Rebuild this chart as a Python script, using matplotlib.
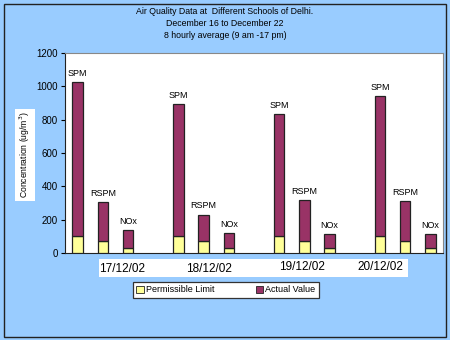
import matplotlib
matplotlib.use("Agg")
import matplotlib.pyplot as plt
from matplotlib.patches import Rectangle, Patch

plt.rcParams['font.family'] = ['Liberation Sans', 'DejaVu Sans']

dates = ["17/12/02", "18/12/02", "19/12/02", "20/12/02"]
pollutants = ["SPM", "RSPM", "NOx"]
permissible = [100, 75, 30]
actual = [
    [1025, 305, 140],
    [895, 230, 120],
    [835, 320, 115],
    [940, 310, 115],
]
yticks = [0, 200, 400, 600, 800, 1000, 1200]

BG = "#99CCFF"
YELLOW = "#FFFF99"
PURPLE = "#993366"

W, H = 450, 340
fig = plt.figure(figsize=(4.5, 3.4), dpi=100, facecolor=BG)

def fx(px):
    return px / W

def fy(py):
    return 1 - py / H

ax = fig.add_axes([fx(65), fy(253), fx(443) - fx(65), fy(53) - fy(253)])
ax.set_facecolor("white")

for g, vals in enumerate(actual):
    for i, v in enumerate(vals):
        x = g * 4 + i
        ax.bar(x, permissible[i], width=0.42, color=YELLOW, edgecolor="#222222", linewidth=0.9, zorder=3)
        ax.bar(x, v - permissible[i], bottom=permissible[i], width=0.42, color=PURPLE,
               edgecolor="#222222", linewidth=0.9, zorder=3)
        ax.text(x, v + 25, pollutants[i], ha="center", va="bottom", fontsize=6.5, color="black")

ax.set_xlim(-0.5, 14.5)
ax.set_ylim(0, 1200)
ax.set_yticks(yticks)
ax.set_yticklabels([str(t) for t in yticks], fontsize=7)
ax.set_xticks([])
ax.tick_params(axis="y", direction="out", length=3, width=0.8, pad=2)
for s in ["top", "right"]:
    ax.spines[s].set_color("#888888")
    ax.spines[s].set_linewidth(0.8)
for s in ["left", "bottom"]:
    ax.spines[s].set_color("#222222")
    ax.spines[s].set_linewidth(0.8)

fig.text(fx(25), fy(155), "Concentration (ug/m$^3$)", rotation=90, ha="center", va="center",
         fontsize=6.2, bbox=dict(facecolor="white", edgecolor="none", pad=2))

# title
title_lines = ["Air Quality Data at  Different Schools of Delhi.",
               "December 16 to December 22",
               "8 hourly average (9 am -17 pm)"]
for k, line in enumerate(title_lines):
    fig.text(0.5, fy(12 + 11.5 * k), line, ha="center", va="center", fontsize=6.3)

# date labels on white strip
fig.patches.append(Rectangle((fx(99), fy(277)), fx(408) - fx(99), fy(259) - fy(277),
                             transform=fig.transFigure, facecolor="white", edgecolor="none"))
date_x = [122, 209, 302, 380]
date_y = [269, 269, 267, 267]
for d, xpx, ypx in zip(dates, date_x, date_y):
    fig.text(fx(xpx), fy(ypx), d, ha="center", va="center", fontsize=8.5)

# legend
handles = [Patch(facecolor=YELLOW, edgecolor="#222222", linewidth=0.6, label="Permissible Limit"),
           Patch(facecolor=PURPLE, edgecolor="#222222", linewidth=0.6, label="Actual Value")]
leg = fig.legend(handles=handles, loc="center", bbox_to_anchor=(fx(226), fy(290)), ncol=2,
                 fontsize=6.5, frameon=True, fancybox=False, handlelength=0.8, handleheight=0.8,
                 handletextpad=0.3, columnspacing=4.5, borderpad=0.4)
leg.get_frame().set_edgecolor("#333333")
leg.get_frame().set_linewidth(0.9)
leg.get_frame().set_facecolor("white")
leg.get_frame().set_alpha(1)

# outer border
fig.patches.append(Rectangle((fx(4), fy(337)), fx(446) - fx(4), fy(4) - fy(337),
                             transform=fig.transFigure, facecolor="none", edgecolor="#222222", linewidth=1.0))

fig.savefig("out.png", dpi=100, facecolor=BG)
